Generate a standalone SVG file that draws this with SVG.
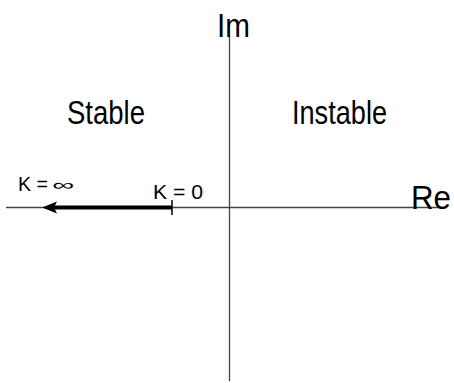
<svg xmlns="http://www.w3.org/2000/svg" width="454" height="383" viewBox="0 0 454 383">
<style>
text{font-family:"Liberation Sans",Arial,sans-serif;fill:#000}
.big{font-size:34px}
.small{font-size:20px}
.axis{stroke:#444;stroke-width:1.3;fill:none}
</style>
<rect width="454" height="383" fill="#fff"/>
<g id="connectors">
<line class="axis" x1="6" y1="207.5" x2="440" y2="207.5"/>
<line class="axis" x1="229.5" y1="36" x2="229.5" y2="381"/>
<line x1="172" y1="207.5" x2="52" y2="207.5" stroke="#000" stroke-width="4"/>
<polygon points="42,207.5 57,201.5 54,207.5 57,213.5" fill="#000"/>
<line x1="172" y1="200" x2="172" y2="215" stroke="#000" stroke-width="1.5"/>
</g>
<g id="im"><text class="big" x="217" y="37" textLength="33" lengthAdjust="spacingAndGlyphs">Im</text></g>
<g id="re"><text class="big" x="411" y="209" textLength="40" lengthAdjust="spacingAndGlyphs">Re</text></g>
<g id="stable"><text class="big" x="67" y="124" textLength="78" lengthAdjust="spacingAndGlyphs">Stable</text></g>
<g id="instable"><text class="big" x="292" y="124" textLength="95" lengthAdjust="spacingAndGlyphs">Instable</text></g>
<g id="kinf"><text class="small" x="18" y="191" textLength="30" lengthAdjust="spacingAndGlyphs">K =</text><text x="52" y="190" font-size="15" fill="#222" textLength="22" lengthAdjust="spacingAndGlyphs">∞</text></g>
<g id="k0"><text class="small" x="153" y="199" textLength="50" lengthAdjust="spacingAndGlyphs">K = 0</text></g>
</svg>
